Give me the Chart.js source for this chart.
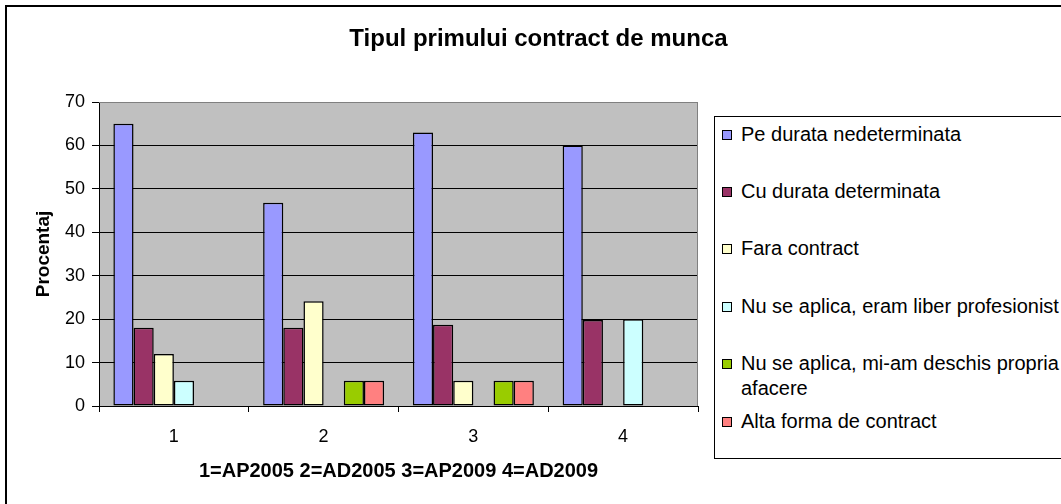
<!DOCTYPE html>
<html>
<head>
<meta charset="utf-8">
<script src="https://cdn.jsdelivr.net/npm/chart.js@4.4.1/dist/chart.umd.min.js"></script>
<style>
    html, body {
        margin: 0;
        padding: 0;
        width: 1061px;
        height: 504px;
        overflow: hidden;
        background: #fff;
        font-family: "Liberation Sans", Arial, sans-serif;
    }
    #wrap { position: relative; width: 1061px; height: 504px; }
    #frame {
        position: absolute; left: 5px; top: 5px;
        width: 1100px; height: 560px;
        border: 2px solid #000;
        box-sizing: border-box;
    }
    #chart { position: absolute; left: 0; top: 0; }
    #title {
        position: absolute; left: 0; top: 24px; width: 1077px;
        text-align: center;
        font-weight: bold; font-size: 24px; color: #000;
    }
    #legend {
        position: absolute; left: 714px; top: 116px;
        width: 400px; height: 343px;
        border: 1px solid #000;
        box-sizing: border-box;
        background: #fff;
    }
    .legend-item {
        position: absolute; left: 7px;
        font-size: 20px; line-height: 25px; color: #000;
    }
    .legend-box {
        position: absolute; left: 0; top: 8px;
        width: 10px; height: 10px;
        border: 1px solid #000;
        box-sizing: border-box;
    }
    .legend-text { position: absolute; left: 19px; top: 0; width: 326px; }
</style>
</head>
<body>
<div id="wrap">
    <div id="frame"></div>
    <canvas id="chart" width="1061" height="504"></canvas>
    <div id="title">Tipul primului contract de munca</div>
    <div id="legend"></div>
</div>
<script>
// date
const categorii = ['1', '2', '3', '4'];
const etichete = [
    'Pe durata nedeterminata',
    'Cu durata determinata',
    'Fara contract',
    'Nu se aplica, eram liber profesionist',
    'Nu se aplica, mi-am deschis propria afacere',
    'Alta forma de contract'
];
const nedeterminata = [65, 46.8, 63, 60];
const determinata = [18, 18, 18.7, 19.8];
const faraContract = [12, 24.1, 5.8, null];
const liberProfesionist = [5.8, null, null, 20];
const afacerePropria = [null, 5.8, 5.8, null];
const altaForma = [null, 5.8, 5.8, null];
const culori = ['#9999FF', '#993366', '#FFFFCC', '#CCFFFF', '#99CC00', '#FF8080'];
const yTicks = [0, 10, 20, 30, 40, 50, 60, 70];

const serii = [nedeterminata, determinata, faraContract, liberProfesionist, afacerePropria, altaForma];

const fontAxa = { family: '"Liberation Sans", Arial, sans-serif', size: 18 };
const fontTitluAxa = { family: '"Liberation Sans", Arial, sans-serif', size: 19, weight: 'bold' };

// fundal gri pentru zona graficului (stil Excel)
const plotBackground = {
    id: 'plotBackground',
    beforeDraw(chart) {
        const {ctx, chartArea: a} = chart;
        ctx.save();
        ctx.fillStyle = '#C0C0C0';
        ctx.fillRect(a.left, a.top, a.right - a.left, a.bottom - a.top);
        ctx.restore();
    },
    beforeDatasetsDraw(chart) {
        const {ctx, chartArea: a} = chart;
        ctx.save();
        ctx.strokeStyle = '#808080';
        ctx.lineWidth = 1;
        ctx.beginPath();
        ctx.moveTo(a.left, Math.round(a.top) + 0.5);
        ctx.lineTo(Math.round(a.right) - 0.5, Math.round(a.top) + 0.5);
        ctx.lineTo(Math.round(a.right) - 0.5, a.bottom);
        ctx.stroke();
        ctx.restore();
    }
};

const chart = new Chart(document.getElementById('chart'), {
    type: 'bar',
    data: {
        labels: categorii,
        datasets: serii.map((valori, i) => ({
            label: etichete[i],
            data: valori,
            backgroundColor: culori[i],
            borderColor: '#000',
            borderWidth: 1.5,
            borderSkipped: false,
            categoryPercentage: 0.808,
            barPercentage: 1
        }))
    },
    options: {
        responsive: false,
        animation: false,
        layout: { padding: { left: 32, right: 363, top: 102, bottom: 21 } },
        plugins: {
            legend: { display: false },
            title: { display: false },
            tooltip: { enabled: false }
        },
        scales: {
            x: {
                afterFit: (scale) => { scale.height = 77; },
                grid: { drawOnChartArea: false, drawTicks: true, tickLength: 6, color: '#000', offset: true },
                border: { color: '#000', width: 1 },
                ticks: { color: '#000', padding: 14, font: fontAxa },
                title: {
                    display: true,
                    text: '1=AP2005 2=AD2005 3=AP2009 4=AD2009',
                    color: '#000',
                    padding: 0,
                    font: { family: '"Liberation Sans", Arial, sans-serif', size: 20, weight: 'bold' }
                }
            },
            y: {
                min: 0,
                max: 70,
                afterFit: (scale) => { scale.width = 67; },
                afterBuildTicks: (scale) => { scale.ticks = yTicks.map(v => ({ value: v })); },
                grid: {
                    color: (c) => c.tick && c.tick.value === 70 ? '#808080' : '#000',
                    tickColor: '#000',
                    tickLength: 7
                },
                border: { color: '#000', width: 1 },
                ticks: { color: '#000', padding: 7, font: fontAxa },
                title: {
                    display: true,
                    text: 'Procentaj',
                    color: '#000',
                    padding: 0,
                    font: fontTitluAxa
                }
            }
        }
    },
    plugins: [plotBackground]
});

// legenda HTML, construita din seturile de date
const legend = document.getElementById('legend');
chart.data.datasets.forEach((ds, i) => {
    const item = document.createElement('div');
    item.className = 'legend-item';
    item.style.top = (4.5 + i * 57.4) + 'px';
    const box = document.createElement('span');
    box.className = 'legend-box';
    box.style.background = ds.backgroundColor;
    const text = document.createElement('span');
    text.className = 'legend-text';
    text.textContent = ds.label;
    item.appendChild(box);
    item.appendChild(text);
    legend.appendChild(item);
});
</script>
</body>
</html>
